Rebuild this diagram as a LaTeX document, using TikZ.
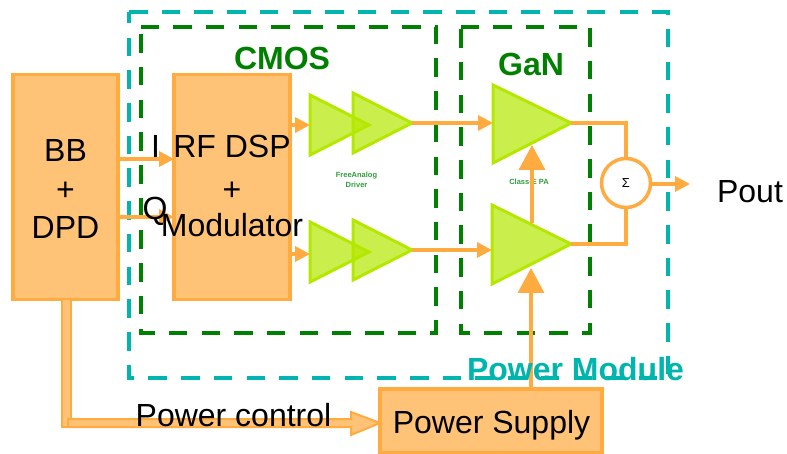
\documentclass[tikz,border=0pt]{standalone}
\usepackage{fontspec}
\setmainfont{Liberation Sans}
\usetikzlibrary{arrows.meta}
\definecolor{modcyan}{HTML}{00B5AD}
\definecolor{dgreen}{HTML}{008000}
\definecolor{tgreen}{HTML}{B4E800}
\definecolor{sgreen}{HTML}{2E9E3A}
\definecolor{orline}{HTML}{FFAB40}
\definecolor{orfill}{HTML}{FFC378}
\tikzset{
  txt/.style={inner sep=0pt,outer sep=0pt,anchor=base,font=\fontsize{32}{36}\selectfont,text=black},
  ttl/.style={inner sep=0pt,outer sep=0pt,anchor=base,font=\fontsize{32}{36}\selectfont\bfseries},
  tiny/.style={inner sep=0pt,outer sep=0pt,align=center,font=\fontsize{7.5}{9.5}\selectfont\bfseries,text=sgreen},
  blockbox/.style={draw=orline,fill=orfill,line width=3.5pt,inner sep=0pt,outer sep=0pt},
  modframe/.style={draw=modcyan,line width=4pt,dash pattern=on 18.5pt off 14.2pt},
  gframe/.style={draw=dgreen,line width=4pt,dash pattern=on 18.5pt off 14.2pt},
  amp/.style={draw=tgreen,line width=3pt,fill=tgreen,fill opacity=.7,draw opacity=1,line join=miter},
  wire/.style={draw=orline,line width=3.5pt},
  arr/.style={wire,-{Triangle[length=15pt,width=15pt]}},
  bigarr/.style={wire,-{Triangle[length=25pt,width=26pt]}},
  band/.style={draw=orline,fill=orfill,line width=2pt,line join=miter}
}
\begin{document}
\begin{tikzpicture}[x=1pt,y=-1pt]
\useasboundingbox (0,0) rectangle (787,454);
% frames, clockwise from the top left corner
\draw[modframe] (129,12) -- (668,12) -- (668,378) -- (129,378) -- cycle;
\draw[gframe] (140.5,27) -- (436,27) -- (436,333) -- (140.5,333) -- cycle;
\draw[gframe] (460.5,27) -- (590,27) -- (590,333) -- (460.5,333) -- cycle;
% blocks
\node[blockbox,minimum width=105pt,minimum height=225pt] (bb) at (65.5,187) {};
\node[blockbox,minimum width=116pt,minimum height=225pt] (dsp) at (232,187) {};
\node[blockbox,minimum width=222pt,minimum height=64pt] (ps) at (491,421) {};
\node[circle,draw=orline,line width=3.5pt,fill=white,minimum size=49pt,inner sep=0pt,outer sep=0pt] (sum) at (626,183) {};
\node[inner sep=0pt,font=\fontsize{13}{15}\selectfont] (sumlabel) at (626,183) {Σ};
% amplifiers
\coordinate (d1a) at (310,95); \coordinate (d1b) at (310,155); \coordinate (d1t) at (369,125);
\coordinate (d2a) at (353,93); \coordinate (d2b) at (353,153); \coordinate (d2t) at (412,123);
\coordinate (d3a) at (310,222); \coordinate (d3b) at (310,282); \coordinate (d3t) at (369,252);
\coordinate (d4a) at (353,220); \coordinate (d4b) at (353,280); \coordinate (d4t) at (412,250);
\coordinate (p1a) at (493,85); \coordinate (p1b) at (493,163); \coordinate (p1t) at (571,123);
\coordinate (p2a) at (492,205); \coordinate (p2b) at (492,284); \coordinate (p2t) at (571,244);
\path[amp] (d1a) -- (d1b) -- (d1t) -- cycle;
\path[amp] (d2a) -- (d2b) -- (d2t) -- cycle;
\path[amp] (d3a) -- (d3b) -- (d3t) -- cycle;
\path[amp] (d4a) -- (d4b) -- (d4t) -- cycle;
\path[amp] (p1a) -- (p1b) -- (p1t) -- cycle;
\path[amp] (p2a) -- (p2b) -- (p2t) -- cycle;
% small captions
\node[tiny] (drv) at (356.5,180) {FreeAnalog\\Driver};
\node[tiny] (cls) at (529,182) {Class-E PA};
% connectors
\coordinate (i0) at (bb.east|-0,159); \coordinate (i1) at (dsp.west|-0,159);
\coordinate (q0) at (bb.east|-0,217); \coordinate (q1) at (dsp.west|-0,217);
\draw[arr] (i0) -- (i1);
\draw[arr] (q0) -- (q1);
\coordinate (a1s) at (dsp.east|-0,125); \coordinate (a1e) at (d1a|-0,125);
\coordinate (a2s) at (dsp.east|-0,254); \coordinate (a2e) at (d3a|-0,254);
\draw[arr] (a1s) -- (a1e);
\draw[arr] (a2s) -- (a2e);
\coordinate (p1in) at (p1a|-d2t);
\coordinate (p2in) at (p2a|-d4t);
\draw[arr] (d2t) -- (p1in);
\draw[arr] (d4t) -- (p2in);
\draw[wire] (p1t) -| (sum.north);
\draw[wire] (p2t) -| (sum.south);
\coordinate (out) at (690,184);
\draw[arr] (sum.east|-out) -- (out);
\coordinate (v0) at (532,223); \coordinate (v1) at (532,145);
\draw[bigarr] (v0) -- (v1);
\coordinate (s0) at (531,388); \coordinate (s1) at (531,268);
\draw[bigarr] (s0) -- (s1);
% power control band
\path[band] (62,299) -- (71,299) -- (71,427) -- (62,427) -- cycle;
\path[band] (68,419) -- (351,419) -- (351,412) -- (380,423) -- (351,435) -- (351,427) -- (68,427) -- cycle;
% texts
\node[txt] (t1) at (65.5,162) {BB};
\node[txt] (t2) at (65.5,201) {+};
\node[txt] (t3) at (65.5,239) {DPD};
\node[txt] (t4) at (155.5,158) {I};
\node[txt] (t5) at (232,158) {RF DSP};
\node[txt] (t6) at (232,201) {+};
\node[txt] (t7) at (232,237) {Modulator};
\node[txt] (t8) at (155,220) {Q};
\node[txt] (t9) at (750,203) {Pout};
\node[txt] (t10) at (233.5,426) {Power control};
\node[txt] (t11) at (491.5,433) {Power Supply};
\node[ttl,text=dgreen] (t12) at (282,70) {CMOS};
\node[ttl,text=dgreen] (t13) at (531,76) {GaN};
\node[ttl,text=modcyan] (t14) at (575.5,380) {Power Module};
\end{tikzpicture}
\end{document}
